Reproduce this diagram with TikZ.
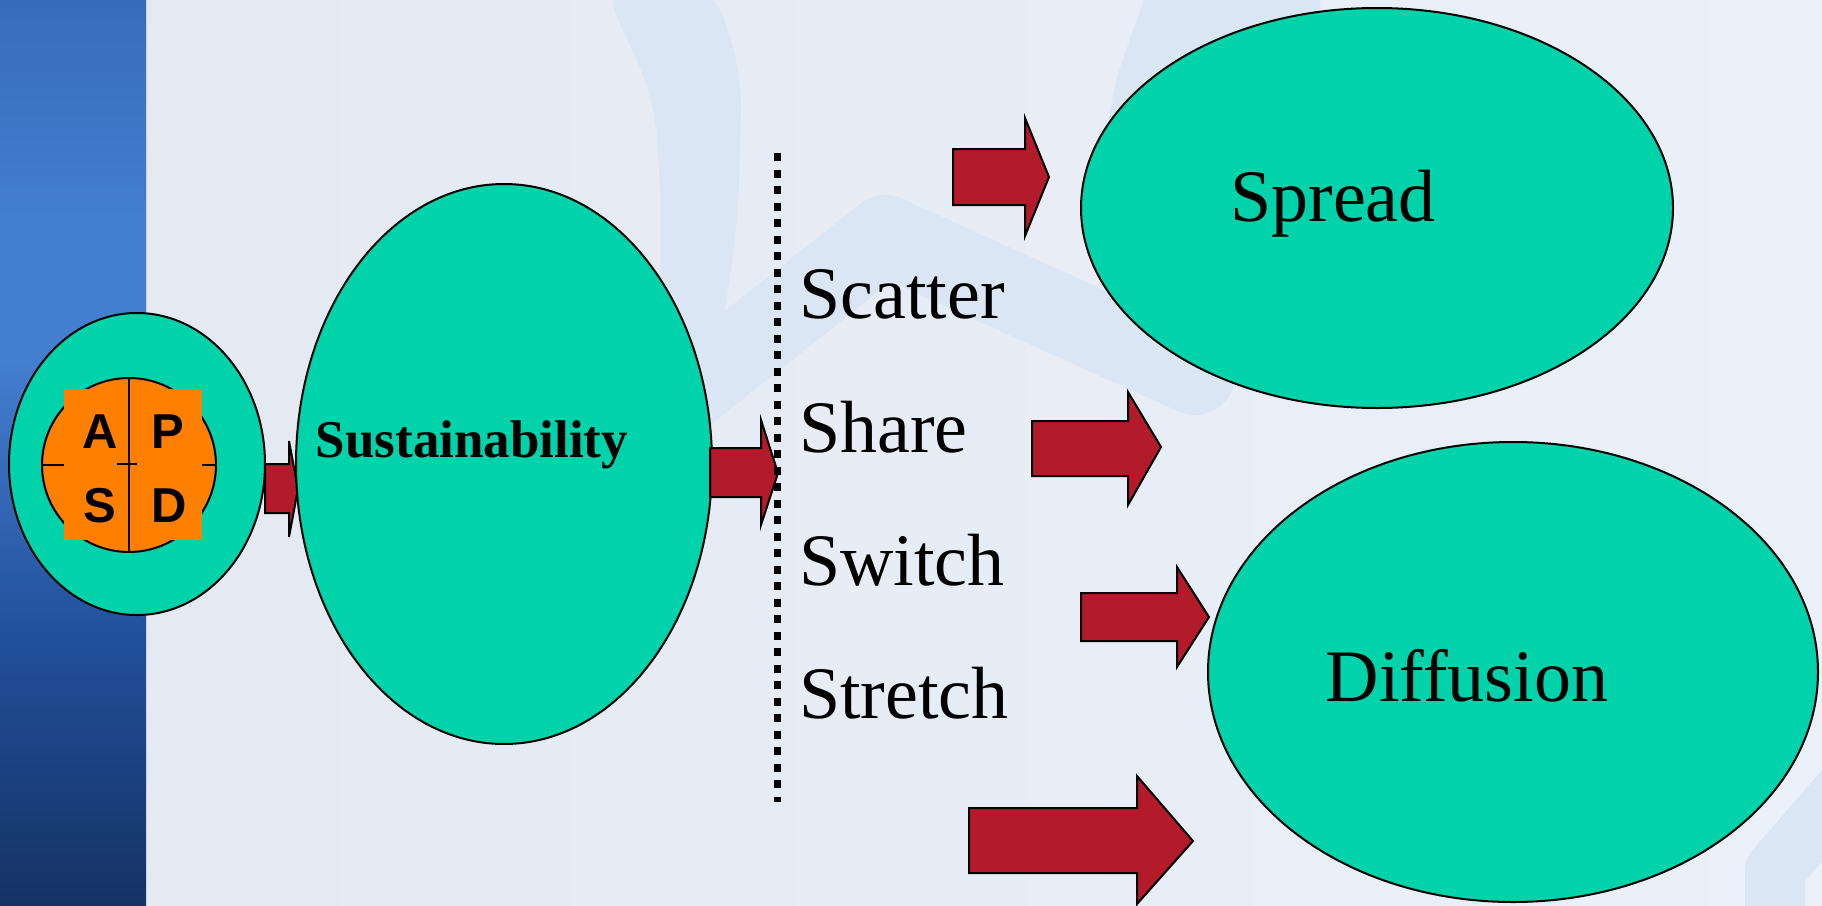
\documentclass[tikz,border=0pt]{standalone}
\usepackage{fontspec}
\setmainfont{Liberation Serif}
\newfontfamily\pdsafont{Liberation Sans}
\usetikzlibrary{shapes.geometric}
\definecolor{ellteal}{RGB}{0,210,170}
\definecolor{arrred}{RGB}{179,27,43}
\definecolor{pdsaorange}{RGB}{255,128,0}
\definecolor{bgleft}{RGB}{227,232,241}
\definecolor{bgright}{RGB}{235,241,250}
\definecolor{bgshape}{RGB}{219,230,244}
\definecolor{bandtop}{RGB}{54,108,188}
\definecolor{bandlight}{RGB}{68,126,206}
\definecolor{bandmid}{RGB}{34,80,156}
\definecolor{bandbot}{RGB}{21,50,100}
\pgfdeclareverticalshading{bandshade}{100bp}{color(0bp)=(bandbot); color(25bp)=(bandbot); color(40bp)=(bandmid); color(55bp)=(bandlight); color(63bp)=(bandlight); color(75bp)=(bandtop); color(100bp)=(bandtop)}
\tikzset{
  blob/.style={ellipse, draw=black, line width=2pt, fill=ellteal, inner sep=0pt},
  blockarrow/.style={draw=black, line width=2pt, fill=arrred, line join=miter},
  word/.style={font=\fontsize{74}{80}\selectfont, anchor=base west, inner sep=0pt},
  bigword/.style={font=\fontsize{74}{80}\selectfont, anchor=base, inner sep=0pt},
  letter/.style={font=\pdsafont\bfseries\fontsize{49}{52}\selectfont, anchor=base, inner sep=0pt},
  pale/.style={fill=bgshape, draw=none},
  paleline/.style={draw=bgshape, line cap=round, line join=round},
}
\newcommand\blockarr[8]{\draw[blockarrow] (#1,#4) -- (#2,#4) -- (#2,#6) -- (#3,#8) -- (#2,#7) -- (#2,#5) -- (#1,#5) -- cycle;}
\begin{document}
\begin{tikzpicture}[x=1pt,y=-1pt]
\useasboundingbox (0,0) rectangle (1822,905);
% background
\shade[left color=bgleft, right color=bgright] (0,0) rectangle (1822,905);
\begin{scope}
\clip (0,0) rectangle (1822,905);
\fill[pale, rounded corners=40pt] (600,-20) -- (710,-20) -- (742,70) -- (738,220) -- (715,380) -- (655,420) -- (662,220) -- (655,100) -- cycle;
\draw[paleline, line width=80pt] (690,390) -- (885,235) -- (1195,375);
\fill[pale, rounded corners=50pt] (1165,-60) -- (1105,110) -- (1110,320) -- (1320,320) -- (1320,-60) -- cycle;
\draw[paleline, line width=60pt] (1775,940) -- (1775,870) -- (1840,795);
\end{scope}
\shade[shading=bandshade] (0,0) rectangle (146,905);
\draw[white!70!bandtop, line width=1.5pt] (146.5,0) -- (146.5,905);
% PDSA
\node[blob, minimum width=256pt, minimum height=302pt] (pdsa) at (137,464) {};
\node[circle, draw=black, line width=2pt, fill=pdsaorange, minimum size=174pt, inner sep=0pt] (cycle) at (129,465) {};
\draw[line width=2pt] (cycle.west) -- (cycle.east);
\fill[pdsaorange] (64,389) rectangle (202,540);
\draw[line width=2pt] (cycle.north) -- (cycle.south);
\draw[line width=2pt] (117,464) -- (137,464);
\node[letter] (la) at (100,448) {A};
\node[letter] (lp) at (168,448) {P};
\node[letter] (ls) at (100,522) {S};
\node[letter] (ld) at (169,522) {D};
% small arrow
\blockarr{265}{289}{298}{464}{513}{441}{537}{489}
% sustainability
\node[blob, minimum width=416pt, minimum height=560pt] (sust) at (504,464) {};
\node[font=\bfseries\fontsize{53}{56}\selectfont, inner sep=0pt, anchor=base] (sustxt) at (472,457) {Sustainability};
% big arrow
\blockarr{710}{761}{778}{448}{497}{420}{525}{473}
% dotted line
\coordinate (dtop) at (777,153);
\coordinate (dbot) at (777,802);
\draw[line width=7pt, dash pattern=on 8pt off 8.5pt] (dtop) -- (dbot);
% words
\node[word] (scatter) at (799,318) {Scatter};
\node[word] (share) at (799,452) {Share};
\node[word] (switch) at (799,585) {Switch};
\node[word] (stretch) at (799,718) {Stretch};
% target ellipses
\node[blob, minimum width=592pt, minimum height=400pt] (spread) at (1377,208) {};
\node[bigword] (spreadtxt) at (1333,221) {Spread};
\node[blob, minimum width=610pt, minimum height=460pt] (diff) at (1513,672) {};
\node[bigword] (difftxt) at (1467,701) {Diffusion};
% arrows
\blockarr{953}{1025}{1049}{149}{205}{118}{236}{177}
\blockarr{1032}{1128}{1161}{421}{476}{392}{505}{447}
\blockarr{1081}{1177}{1209}{593}{641}{567}{667}{617}
\blockarr{969}{1137}{1193}{808}{873}{776}{904}{841}
\end{tikzpicture}
\end{document}
